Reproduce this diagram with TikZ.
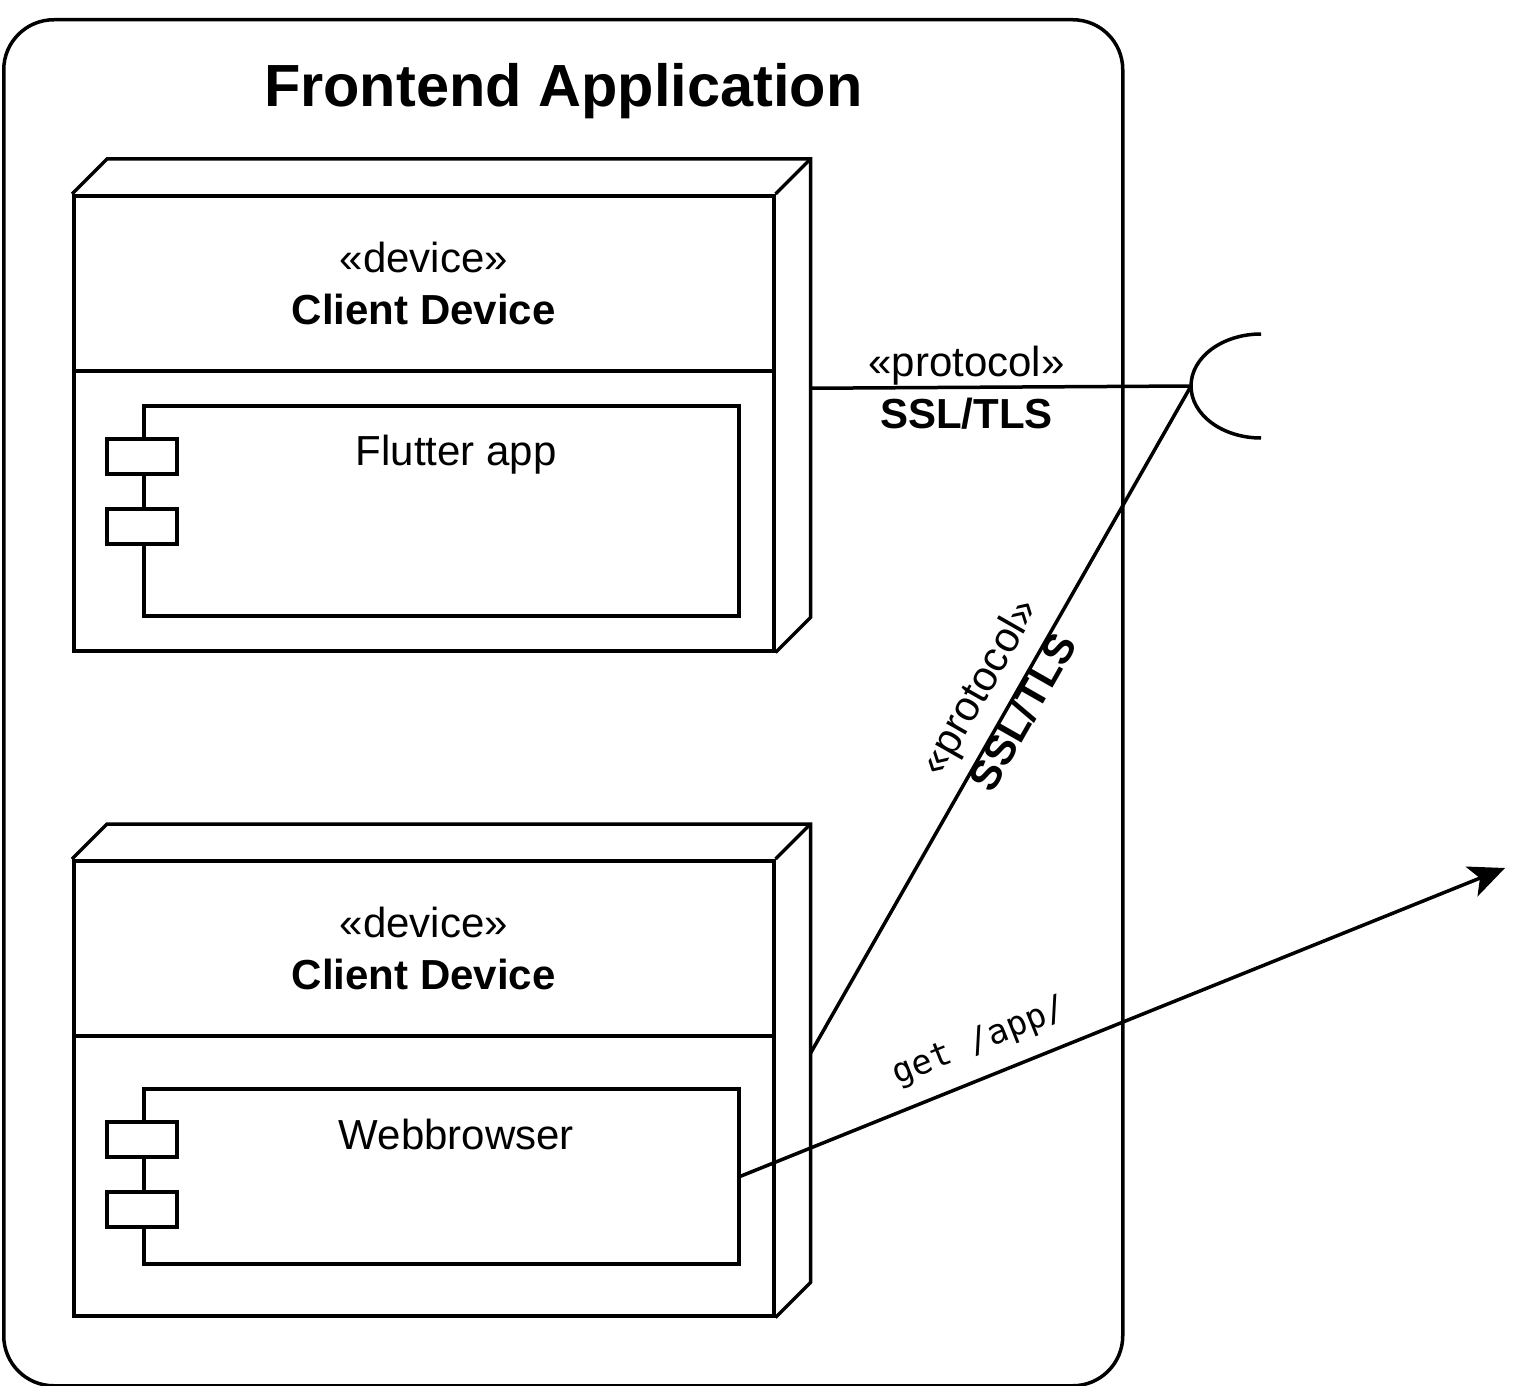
\documentclass[tikz,border=0pt]{standalone}
\usepackage{fontspec}
\setmainfont{Liberation Sans}
\setmonofont{DejaVu Sans Mono}
\usetikzlibrary{positioning,calc,arrows.meta}

\begin{document}
\begin{tikzpicture}[x=1pt, y=-1pt, line width=3.5pt,
		lbl/.style={font=\fontsize{42}{52}\selectfont, align=center, inner sep=0pt},
		device/.style={draw, fill=white, anchor=north west, minimum width=700pt, minimum height=455pt, inner sep=0pt},
		head/.style={device, minimum height=175pt, lbl},
		comp/.style={draw, anchor=north west, minimum width=595pt, inner sep=0pt},
		port/.style={draw, fill=white, minimum width=70pt, minimum height=35pt, inner sep=0pt}]
	\useasboundingbox (0,0) rectangle (1537,1386);
	\node[draw, rounded corners=50pt, anchor=north west, minimum width=1119pt, minimum height=1366pt] (app) at (2,18) {};
	\node[font=\fontsize{59.5}{70}\selectfont\bfseries, anchor=base] (title) at ($(app.north)+(0,89)$) {Frontend Application};

	\node[device] (d1) at (72,194) {};
	\draw (d1.north west) -- ++(35,-35) -- ($(d1.north east)+(35,-35)$) -- ($(d1.south east)+(35,-35)$) -- (d1.south east);
	\draw (d1.north east) -- ++(35,-35);
	\node[head] (h1) at (d1.north west) {«device»\\\textbf{Client Device}};
	\node[comp, minimum height=210pt] (c1) at (142,404) {};
	\node[lbl, below=29pt of c1.north, xshift=15pt] (t1) {Flutter app};

	\node[device] (d2) at (72,859) {};
	\draw (d2.north west) -- ++(35,-35) -- ($(d2.north east)+(35,-35)$) -- ($(d2.south east)+(35,-35)$) -- (d2.south east);
	\draw (d2.north east) -- ++(35,-35);
	\node[head] (h2) at (d2.north west) {«device»\\\textbf{Client Device}};
	\node[comp, minimum height=175pt] (c2) at (142,1087) {};
	\node[lbl, below=30pt of c2.north, xshift=15pt] (t2) {Webbrowser};

	\foreach \c in {c1,c2}{
		\node[port] (\c-a) at ($(\c.north west)+(0,52.5)$) {};
		\node[port] (\c-b) at ($(\c.north west)+(0,122.5)$) {};
	}

	\coordinate (s) at (1191,386);
	\coordinate (r1) at ($(d1.east)+(35,-35)$);
	\coordinate (r2) at ($(d2.east)+(35,-35)$);
	\coordinate (e) at (1505,868);
	\draw (1261,334) .. controls (1222.3,334) and (1191,357.3) .. (s) .. controls (1191,414.7) and (1222.3,438) .. (1261,438);

	\draw (r1) -- node[lbl, pos=0.41]{«protocol»\\\textbf{SSL/TLS}} (s);
	\draw (r2) -- node[lbl, pos=0.523, sloped, yshift=11pt]{«protocol»\\\textbf{SSL/TLS}} (s);
	\draw[-{Stealth[length=36pt, width=32pt, inset=9pt]}] (c2.east) -- node[pos=0.33, sloped, above=17pt, inner sep=0pt, font=\ttfamily\fontsize{34}{40}\selectfont]{get /app/} (e);
\end{tikzpicture}
\end{document}
